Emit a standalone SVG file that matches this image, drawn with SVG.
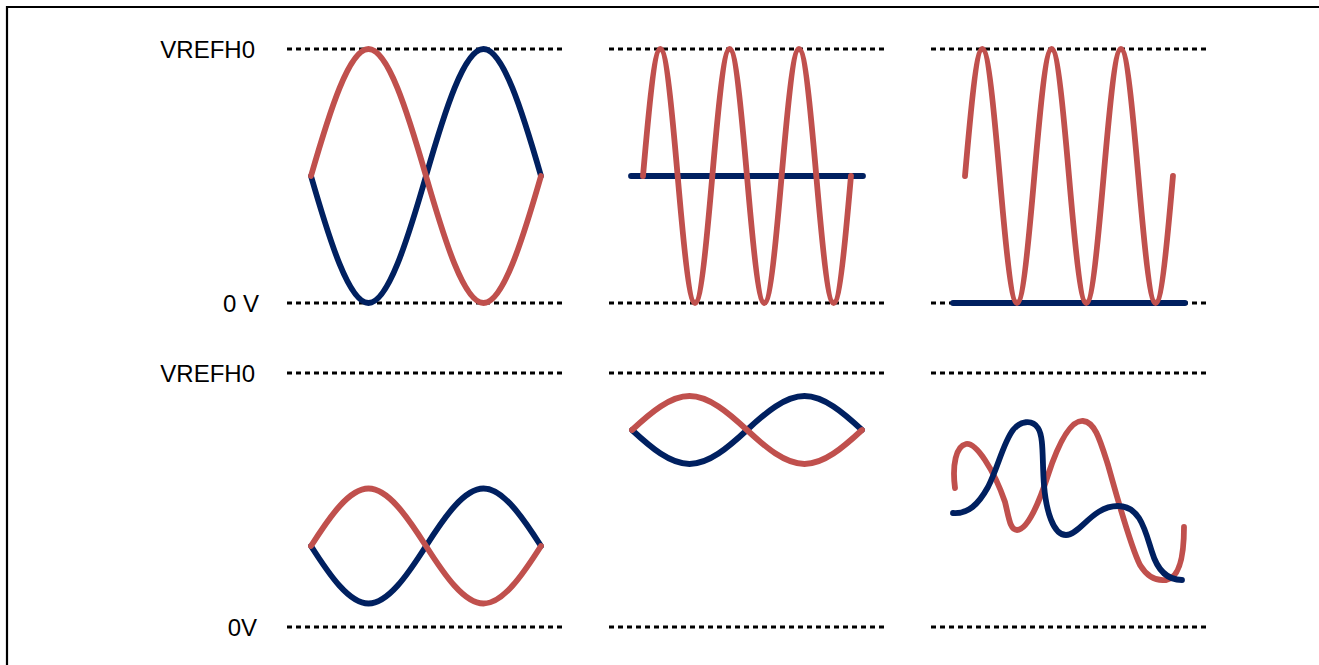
<svg xmlns="http://www.w3.org/2000/svg" width="1319" height="665" viewBox="0 0 1319 665">
<style>
.frame{stroke:#000;stroke-width:2.2;fill:none}
.ref{stroke:#000;stroke-width:2.8;stroke-dasharray:5 4;fill:none}
.lbl{font-family:"Liberation Sans",Arial,sans-serif;font-size:24px;fill:#000;text-anchor:end}
.r{stroke:#C0504D;stroke-width:5.8;fill:none;stroke-linecap:round;stroke-linejoin:round}
.b{stroke:#002060;stroke-width:5.8;fill:none;stroke-linecap:round;stroke-linejoin:round}
</style>
<rect width="1319" height="665" fill="#fff"/>
<g id="frame">
<path class="frame" d="M7,665 V7 H1319"/>
</g>
<g id="labels">
<text class="lbl" x="255" y="58">VREFH0</text>
<text class="lbl" x="259" y="312">0 V</text>
<text class="lbl" x="255" y="382">VREFH0</text>
<text class="lbl" x="257" y="636">0V</text>
</g>
<g id="reference-lines">
<path class="ref" d="M287,49 H563 M609,49 H886 M931,49 H1208"/>
<path class="ref" d="M287,303 H563 M609,303 H886 M931,303 H1208"/>
<path class="ref" d="M287,373 H563 M609,373 H886 M931,373 H1208"/>
<path class="ref" d="M287,627 H563 M609,627 H886 M931,627 H1208"/>
</g>
<g id="panel-top-left">
<path class="b" d="M311,176 C329.75,241.05 349.18,303 368.5,303 C387.82,303 407.25,241.05 426,176 C444.75,110.95 464.18,49 483.5,49 C502.82,49 522.25,110.95 541,176"/>
<path class="r" d="M311,176 C329.75,110.95 349.18,49 368.5,49 C387.82,49 407.25,110.95 426,176 C444.75,241.05 464.18,303 483.5,303 C502.82,303 522.25,241.05 541,176"/>
</g>
<g id="panel-top-middle">
<path class="b" d="M631,176 H863"/>
<path class="r" d="M643,176 c5.65,-65.05 11.51,-127 17.33,-127 c5.82,0 11.68,61.95 17.33,127 c5.65,65.05 11.51,127 17.33,127 c5.82,0 11.68,-61.95 17.33,-127 c5.65,-65.050 11.51,-127 17.33,-127 c5.82,0 11.68,61.95 17.33,127 c5.65,65.05 11.51,127 17.33,127 c5.82,0 11.68,-61.95 17.33,-127 c5.65,-65.05 11.51,-127 17.33,-127 c5.82,0 11.68,61.95 17.33,127 c5.65,65.05 11.51,127 17.33,127 c5.82,0 11.68,-61.95 17.33,-127"/>
</g>
<g id="panel-top-right">
<path class="b" d="M953,303 H1185"/>
<path class="r" d="M965,176 c5.65,-65.05 11.51,-127 17.33,-127 c5.82,0 11.68,61.95 17.33,127 c5.65,65.05 11.51,127 17.33,127 c5.82,0 11.68,-61.95 17.33,-127 c5.65,-65.05 11.51,-127 17.33,-127 c5.82,0 11.68,61.95 17.33,127 c5.65,65.05 11.51,127 17.33,127 c5.82,0 11.68,-61.95 17.33,-127 c5.65,-65.05 11.51,-127 17.33,-127 c5.82,0 11.68,61.95 17.33,127 c5.65,65.05 11.51,127 17.33,127 c5.82,0 11.68,-61.95 17.33,-127"/>
</g>
<g id="panel-bottom-left">
<path class="b" d="M311,546 C329.75,575.45 349.18,603.5 368.5,603.5 C387.82,603.5 407.25,575.45 426,546 C444.75,516.55 464.18,488.5 483.5,488.5 C502.82,488.5 522.25,516.55 541,546"/>
<path class="r" d="M311,546 C329.75,516.55 349.18,488.5 368.5,488.5 C387.82,488.5 407.25,516.55 426,546 C444.75,575.45 464.18,603.5 483.5,603.5 C502.82,603.5 522.25,575.45 541,546"/>
</g>
<g id="panel-bottom-middle">
<path class="b" d="M632,430 C650.75,447.41 670.18,464 689.5,464 C708.82,464 728.25,447.41 747,430 C765.75,412.59 785.18,396 804.5,396 C823.82,396 843.25,412.59 862,430"/>
<path class="r" d="M632,430 C650.75,412.59 670.18,396 689.5,396 C708.82,396 728.25,412.59 747,430 C765.75,447.41 785.18,464 804.5,464 C823.82,464 843.25,447.41 862,430"/>
</g>
<g id="panel-bottom-right">
<path class="r" d="M955,488 C952,465 956,446 966,444 C976,442 994,470 1005,502 C1009,518 1010,530 1017,530 C1028,530 1040,500 1048,475 C1058,445 1070,420 1083,421 C1095,422 1100,440 1108,465 C1118,500 1130,545 1140,565 C1148,578 1158,581 1166,580 C1180,578 1184,555 1184,527"/>
<path class="b" d="M953,513 C968,514 978,505 988,487 C998,468 1003,443 1013,430 C1020,421 1032,419 1038,428 C1044,437 1042,460 1044,485 C1046,510 1053,535 1066,535 C1080,535 1092,506 1118,506 C1140,506 1145,530 1152,552 C1158,572 1168,580 1182,580"/>
</g>
</svg>
